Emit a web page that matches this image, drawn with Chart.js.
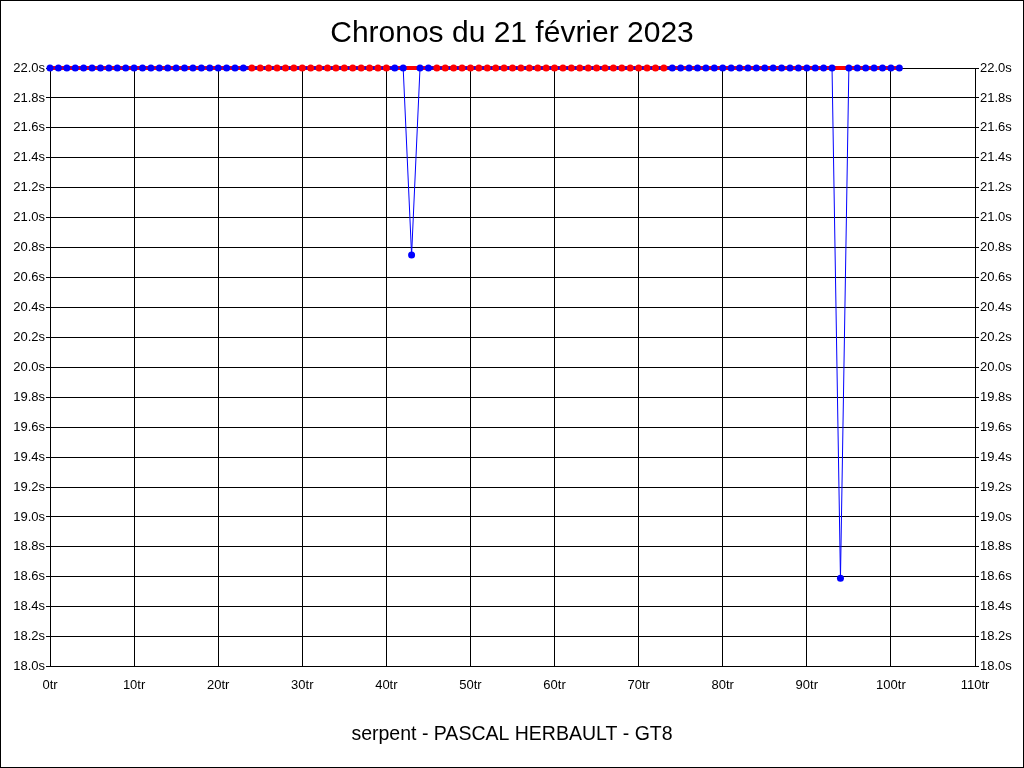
<!DOCTYPE html>
<html>
<head>
<meta charset="utf-8">
<script src="https://cdn.jsdelivr.net/npm/chart.js@4/dist/chart.umd.min.js"></script>
<style>
  html, body { margin: 0; padding: 0; background: #fff; }
  #wrap { width: 1024px; height: 768px; }
</style>
</head>
<body>
<div id="wrap"><canvas id="chronos" width="1024" height="768"></canvas></div>
<script>
// numéros de tour
const tours = [
    0, 1, 2, 3, 4, 5, 6, 7, 8, 9, 10, 11, 12, 13, 14, 15, 16, 17, 18, 19,
    20, 21, 22, 23, 24, 25, 26, 27, 28, 29, 30, 31, 32, 33, 34, 35, 36, 37, 38, 39,
    40, 41, 42, 43, 44, 45, 46, 47, 48, 49, 50, 51, 52, 53, 54, 55, 56, 57, 58, 59,
    60, 61, 62, 63, 64, 65, 66, 67, 68, 69, 70, 71, 72, 73, 74, 75, 76, 77, 78, 79,
    80, 81, 82, 83, 84, 85, 86, 87, 88, 89, 90, 91, 92, 93, 94, 95, 96, 97, 98, 99,
    100, 101
];

// chronos (s), plafonnés à 22.0s
const chronosBleu = [
    22.0, 22.0, 22.0, 22.0, 22.0, 22.0, 22.0, 22.0, 22.0, 22.0, 22.0, 22.0, 22.0, 22.0, 22.0, 22.0, 22.0, 22.0, 22.0, 22.0,
    22.0, 22.0, 22.0, 22.0, 22.0, 22.0, 22.0, 22.0, 22.0, 22.0, 22.0, 22.0, 22.0, 22.0, 22.0, 22.0, 22.0, 22.0, 22.0, 22.0,
    22.0, 22.0, 22.0, 20.75, 22.0, 22.0, 22.0, 22.0, 22.0, 22.0, 22.0, 22.0, 22.0, 22.0, 22.0, 22.0, 22.0, 22.0, 22.0, 22.0,
    22.0, 22.0, 22.0, 22.0, 22.0, 22.0, 22.0, 22.0, 22.0, 22.0, 22.0, 22.0, 22.0, 22.0, 22.0, 22.0, 22.0, 22.0, 22.0, 22.0,
    22.0, 22.0, 22.0, 22.0, 22.0, 22.0, 22.0, 22.0, 22.0, 22.0, 22.0, 22.0, 22.0, 22.0, 18.59, 22.0, 22.0, 22.0, 22.0, 22.0,
    22.0, 22.0
];
const chronosRouge = [
    22.0, 22.0, 22.0, 22.0, 22.0, 22.0, 22.0, 22.0, 22.0, 22.0, 22.0, 22.0, 22.0, 22.0, 22.0, 22.0, 22.0, 22.0, 22.0, 22.0,
    22.0, 22.0, 22.0, 22.0, 22.0, 22.0, 22.0, 22.0, 22.0, 22.0, 22.0, 22.0, 22.0, 22.0, 22.0, 22.0, 22.0, 22.0, 22.0, 22.0,
    22.0, 22.0, 22.0, 22.0, 22.0, 22.0, 22.0, 22.0, 22.0, 22.0, 22.0, 22.0, 22.0, 22.0, 22.0, 22.0, 22.0, 22.0, 22.0, 22.0,
    22.0, 22.0, 22.0, 22.0, 22.0, 22.0, 22.0, 22.0, 22.0, 22.0, 22.0, 22.0, 22.0, 22.0, 22.0, 22.0, 22.0, 22.0, 22.0, 22.0,
    22.0, 22.0, 22.0, 22.0, 22.0, 22.0, 22.0, 22.0, 22.0, 22.0, 22.0, 22.0, 22.0, 22.0, 22.0, 22.0, 22.0, 22.0, 22.0, 22.0,
    22.0, 22.0
];

// tours où les points rouges passent devant
const plagesRouges = [[24, 40], [46, 73]];

const titre = 'Chronos du 21 février 2023';
const sousTitre = 'serpent - PASCAL HERBAULT - GT8';

const BLEU = 'rgb(0, 0, 255)';
const ROUGE = 'rgb(255, 0, 0)';

const estRouge = (i) => plagesRouges.some(([a, b]) => i >= a && i <= b);
const enPoints = (valeurs) => valeurs.map((v, i) => ({ x: tours[i], y: v }));

// cadre noir autour de l'image
const cadre = {
    id: 'cadre',
    beforeDraw(chart) {
        const c = chart.ctx;
        c.save();
        c.fillStyle = '#fff';
        c.fillRect(0, 0, chart.width, chart.height);
        c.restore();
    },
    afterDraw(chart) {
        const c = chart.ctx;
        c.save();
        c.strokeStyle = '#000';
        c.lineWidth = 1;
        c.strokeRect(0.5, 0.5, chart.width - 1, chart.height - 1);
        c.restore();
    }
};

document.addEventListener('DOMContentLoaded', () => {
    const ctx = document.getElementById('chronos').getContext('2d');

    const police = { family: '"Liberation Sans", Arial, sans-serif', size: 13 };

    const axeY = (position, largeur) => ({
        type: 'linear',
        position: position,
        min: 18,
        max: 22,
        afterFit: (s) => { s.width = largeur; },
        ticks: {
            stepSize: 0.2,
            color: '#000',
            font: police,
            padding: 1,
            callback: (v) => v.toFixed(1) + 's'
        },
        grid: { color: '#000', lineWidth: 1, tickLength: 4, drawOnChartArea: position === 'left' },
        border: { color: '#000', width: 1 }
    });

    const data = {
        datasets: [
            {
                label: 'points rouges',
                data: enPoints(chronosRouge),
                showLine: false,
                pointRadius: (c) => estRouge(c.dataIndex) ? 3.5 : 0,
                pointBackgroundColor: ROUGE,
                pointBorderWidth: 0,
                yAxisID: 'y'
            },
            {
                label: 'bleu',
                data: enPoints(chronosBleu),
                borderColor: BLEU,
                borderWidth: 1,
                segment: {
                    borderWidth: (c) => (estRouge(c.p0DataIndex) || estRouge(c.p1DataIndex)) ? 3 : 1
                },
                pointRadius: (c) => estRouge(c.dataIndex) ? 0 : 3.5,
                pointBackgroundColor: BLEU,
                pointBorderWidth: 0,
                tension: 0,
                yAxisID: 'y'
            },
            {
                label: 'rouge',
                data: enPoints(chronosRouge),
                borderColor: ROUGE,
                borderWidth: 4,
                pointRadius: 0,
                tension: 0,
                yAxisID: 'y'
            }
        ]
    };

    const config = {
        type: 'line',
        data: data,
        plugins: [cadre],
        options: {
            responsive: false,
            animation: false,
            clip: false,
            layout: { padding: 0 },
            plugins: {
                legend: { display: false },
                tooltip: { enabled: false },
                title: {
                    display: true,
                    text: titre,
                    color: '#000',
                    font: { family: '"Liberation Sans", Arial, sans-serif', size: 30, weight: 'normal' },
                    padding: { top: 16, bottom: 16 }
                },
                subtitle: {
                    display: true,
                    position: 'bottom',
                    text: sousTitre,
                    color: '#000',
                    font: { family: '"Liberation Sans", Arial, sans-serif', size: 19.5, weight: 'normal' },
                    padding: { top: 16, bottom: 22 }
                }
            },
            scales: {
                x: {
                    type: 'linear',
                    min: 0,
                    max: 110,
                    afterFit: (s) => { s.height = 40; },
                    ticks: {
                        stepSize: 10,
                        color: '#000',
                        font: police,
                        padding: 11,
                        maxRotation: 0,
                        callback: (v) => v + 'tr'
                    },
                    grid: { color: '#000', lineWidth: 1, drawTicks: false },
                    border: { color: '#000', width: 1 }
                },
                y: axeY('left', 50),
                y2: axeY('right', 49)
            }
        }
    };

    new Chart(ctx, config);
});
</script>
</body>
</html>
